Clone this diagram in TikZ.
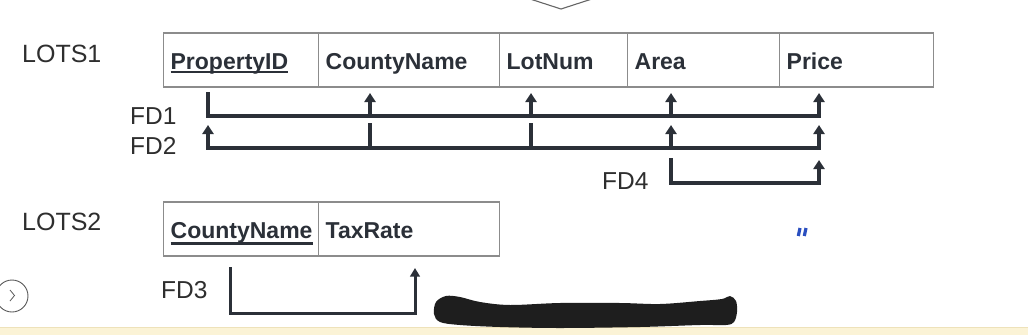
\documentclass[tikz,border=0pt]{standalone}
\usepackage{fontspec}
\setmainfont{Liberation Sans}
\usetikzlibrary{arrows.meta}
\definecolor{ink}{HTML}{2B3038}
\definecolor{boxgray}{HTML}{8C8C8C}
\definecolor{lbl}{HTML}{2E2E2E}
\definecolor{strip}{HTML}{FBF3D6}
\definecolor{stripline}{HTML}{EEE2BA}
\definecolor{markblue}{HTML}{2A4FC0}
\definecolor{blob}{HTML}{1E1E1E}
\newcommand\keyulA[1]{\setbox0\hbox{#1}\rlap{\rule[-4pt]{\wd0}{2pt}}\box0}
\newcommand\keyulB[1]{\setbox0\hbox{#1}\rlap{\rule[-7pt]{\wd0}{3pt}}\box0}
\begin{document}
\begin{tikzpicture}[x=1pt,y=-1pt,
 field/.style={draw=boxgray, line width=1.3pt, anchor=west, minimum height=54pt,
   inner xsep=7pt, inner ysep=0pt, text height=18pt, text depth=0pt, align=left,
   text=ink, font=\fontsize{23}{27}\selectfont\bfseries},
 rel/.style={anchor=base west, inner sep=0pt, text=lbl, font=\fontsize{25}{30}\selectfont},
 fdlabel/.style={anchor=base west, inner sep=0pt, text=lbl, font=\fontsize{24.5}{29}\selectfont},
 fd/.style={draw=ink, line width=3.5pt, line join=miter},
 up/.style={fd, -{Triangle[width=11pt,length=9pt]}},
 fdthin/.style={draw=ink, line width=3pt, line join=miter, -{Triangle[width=9.5pt,length=8.5pt]}}
]
\useasboundingbox (0,0) rectangle (1028,335);
\fill[white] (0,0) rectangle (1028,335);

% screenshot artefacts
\draw[black!60, line width=1.1pt] (527,-2) -- (561,9) -- (595,-2);
\fill[strip] (0,327) rectangle (1028,335);
\draw[stripline, line width=1pt] (0,327) -- (1028,327);
\draw[black!65, line width=0.9pt] (12,296) circle (16pt);
\draw[black!65, line width=0.8pt] (10,290) -- (14.5,295.5) -- (10,301);
\fill[blob] plot[smooth cycle, tension=0.55] coordinates {
 (436,302) (446,296) (460,297) (480,302) (510,305) (560,303) (620,303) (660,304)
 (700,301) (722,299) (730,296) (736,301) (737,312) (734,322) (726,325) (700,325)
 (640,327) (560,328) (500,327) (460,325) (440,322) (434,314)};
\draw[markblue, line width=3.2pt] (800,228) -- (798.3,236) (806,228) -- (804.3,236);

% relation LOTS1
\node[rel] (lots1) at (22,62) {LOTS1};
\node[field, text width=141pt] (pid)   at (163,60) {\keyulA{PropertyID}};
\node[field, text width=167pt] (cname) at (318,60) {CountyName};
\node[field, text width=114pt] (lot)   at (499,60) {LotNum};
\node[field, text width=138pt] (area)  at (627,60) {Area};
\node[field, text width=140pt] (price) at (779,60) {Price};

% relation LOTS2
\node[rel] (lots2) at (22,230) {LOTS2};
\node[field, text width=141pt] (cname2) at (163,229) {\keyulB{CountyName}};
\node[field, text width=167pt] (tax)    at (318,229) {TaxRate};

% FD labels
\node[fdlabel] (fd1) at (130,124) {FD1};
\node[fdlabel] (fd2) at (130,154) {FD2};
\node[fdlabel] (fd4) at (602,189) {FD4};
\node[fdlabel] (fd3) at (161,298) {FD3};

% columns and rows of the dependency lines
\coordinate (cP) at (208,0);
\coordinate (cC) at (370,0);
\coordinate (cL) at (531,0);
\coordinate (cA) at (671,0);
\coordinate (cR) at (819,0);
\coordinate (c3a) at (230,0);
\coordinate (c3b) at (415,0);
\coordinate (yTop1) at (0,92);
\coordinate (yTip1) at (0,93);
\coordinate (yL1)   at (0,116);
\coordinate (yTop2) at (0,123);
\coordinate (yTip2) at (0,125);
\coordinate (yL2)   at (0,148);
\coordinate (yTop4) at (0,158);
\coordinate (yTip4) at (0,160);
\coordinate (yL4)   at (0,183);
\coordinate (yTop3) at (0,267);
\coordinate (yTip3) at (0,268);
\coordinate (yL3)   at (0,313);

% FD1
\draw[up] (cP|-yTop1) -- (cP|-yL1) -- (cR|-yL1) -- (cR|-yTip1);
\draw[up] (cC|-yL1) -- (cC|-yTip1);
\draw[up] (cL|-yL1) -- (cL|-yTip1);
\draw[up] (cA|-yL1) -- (cA|-yTip1);

% FD2
\draw[fd, {Triangle[width=11pt,length=9pt]}-{Triangle[width=11pt,length=9pt]}]
  (cP|-yTip2) -- (cP|-yL2) -- (cR|-yL2) -- (cR|-yTip2);
\draw[fd] (cC|-yTop2) -- (cC|-yL2);
\draw[fd] (cL|-yTop2) -- (cL|-yL2);
\draw[up] (cA|-yL2) -- (cA|-yTip2);

% FD4
\draw[up] (cA|-yTop4) -- (cA|-yL4) -- (cR|-yL4) -- (cR|-yTip4);

% FD3
\draw[fdthin] (c3a|-yTop3) -- (c3a|-yL3) -- (c3b|-yL3) -- (c3b|-yTip3);
\end{tikzpicture}
\end{document}
